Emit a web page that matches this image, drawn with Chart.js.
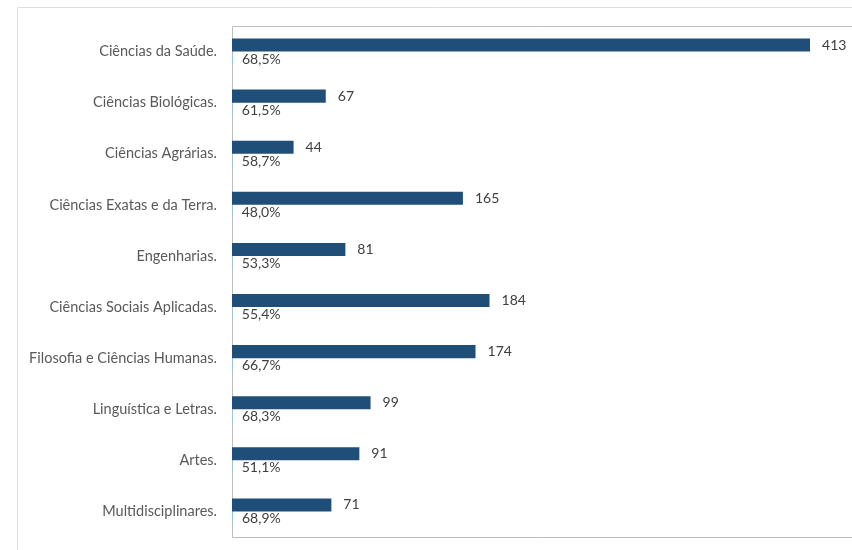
<!DOCTYPE html>
<html>
<head>
  <meta charset="UTF-8">
  <title>Áreas do conhecimento</title>
  <script src="https://cdn.jsdelivr.net/npm/chart.js"></script>
  <style>
    html, body {
      margin: 0;
      padding: 0;
      background: #ffffff;
    }
    #wrap {
      width: 852px;
      height: 550px;
    }
  </style>
</head>
<body>
  <div id="wrap"><canvas id="barChart"></canvas></div>

  <script>
    // Áreas e valores
    const areas = [
      'Ciências da Saúde.',
      'Ciências Biológicas.',
      'Ciências Agrárias.',
      'Ciências Exatas e da Terra.',
      'Engenharias.',
      'Ciências Sociais Aplicadas.',
      'Filosofia e Ciências Humanas.',
      'Linguística e Letras.',
      'Artes.',
      'Multidisciplinares.'
    ];
    const totais = [413, 67, 44, 165, 81, 184, 174, 99, 91, 71];
    const percentuais = [68.5, 61.5, 58.7, 48.0, 53.3, 55.4, 66.7, 68.3, 51.1, 68.9];

    const fonte = 'Lato, "Open Sans", sans-serif';

    // molduras: área externa e área de plotagem (sem borda à direita)
    const molduras = {
      id: 'molduras',
      beforeDraw(chart) {
        const ctx = chart.ctx;
        const a = chart.chartArea;
        ctx.save();
        ctx.strokeStyle = '#dedede';
        ctx.lineWidth = 1;
        ctx.beginPath();
        ctx.moveTo(17.5, chart.height);
        ctx.lineTo(17.5, 7.5);
        ctx.lineTo(chart.width, 7.5);
        ctx.stroke();
        ctx.strokeStyle = '#bdbdbd';
        ctx.beginPath();
        ctx.moveTo(chart.width, a.top + 0.5);
        ctx.lineTo(a.left + 0.5, a.top + 0.5);
        ctx.lineTo(a.left + 0.5, a.bottom + 0.5);
        ctx.lineTo(chart.width, a.bottom + 0.5);
        ctx.stroke();
        ctx.restore();
      }
    };

    // rótulos dos valores ao lado/abaixo das barras
    const rotulos = {
      id: 'rotulos',
      afterDatasetsDraw(chart) {
        const ctx = chart.ctx;
        ctx.save();
        ctx.font = '14px ' + fonte;
        ctx.fillStyle = '#404040';
        ctx.textBaseline = 'middle';
        ctx.textAlign = 'left';
        chart.getDatasetMeta(0).data.forEach((bar, i) => {
          ctx.fillText(String(totais[i]), bar.x + 12, bar.y);
        });
        chart.getDatasetMeta(1).data.forEach((bar, i) => {
          const txt = percentuais[i].toFixed(1).replace('.', ',') + '%';
          ctx.fillText(txt, bar.x + 9, bar.y + 1);
        });
        ctx.restore();
      }
    };

    const ctx = document.getElementById('barChart').getContext('2d');
    new Chart(ctx, {
      type: 'bar',
      data: {
        labels: areas,
        datasets: [
          {
            label: 'Total',
            data: totais,
            backgroundColor: '#1f4e79',
            categoryPercentage: 0.51,
            barPercentage: 1.0
          },
          {
            label: 'Percentual',
            // percentual como fração, na mesma escala (barra quase invisível)
            data: percentuais.map(p => p / 100),
            backgroundColor: '#9dc3e6',
            categoryPercentage: 0.51,
            barPercentage: 1.0
          }
        ]
      },
      plugins: [molduras, rotulos],
      options: {
        indexAxis: 'y',
        responsive: true,
        maintainAspectRatio: false,
        animation: false,
        layout: {
          padding: { top: 26, bottom: 13, left: 0, right: 0 }
        },
        plugins: {
          legend: { display: false },
          tooltip: { enabled: false }
        },
        scales: {
          x: {
            display: false,
            min: 0,
            max: 443
          },
          y: {
            grid: { display: false, drawTicks: false },
            border: { display: false },
            afterFit(scale) {
              scale.width = 232;
              // sem folga extra para os rótulos das pontas
              scale.paddingTop = 0;
              scale.paddingBottom = 0;
            },
            ticks: {
              padding: 15,
              color: '#595959',
              font: { family: fonte, size: 14.5 }
            }
          }
        }
      }
    });
  </script>
</body>
</html>
